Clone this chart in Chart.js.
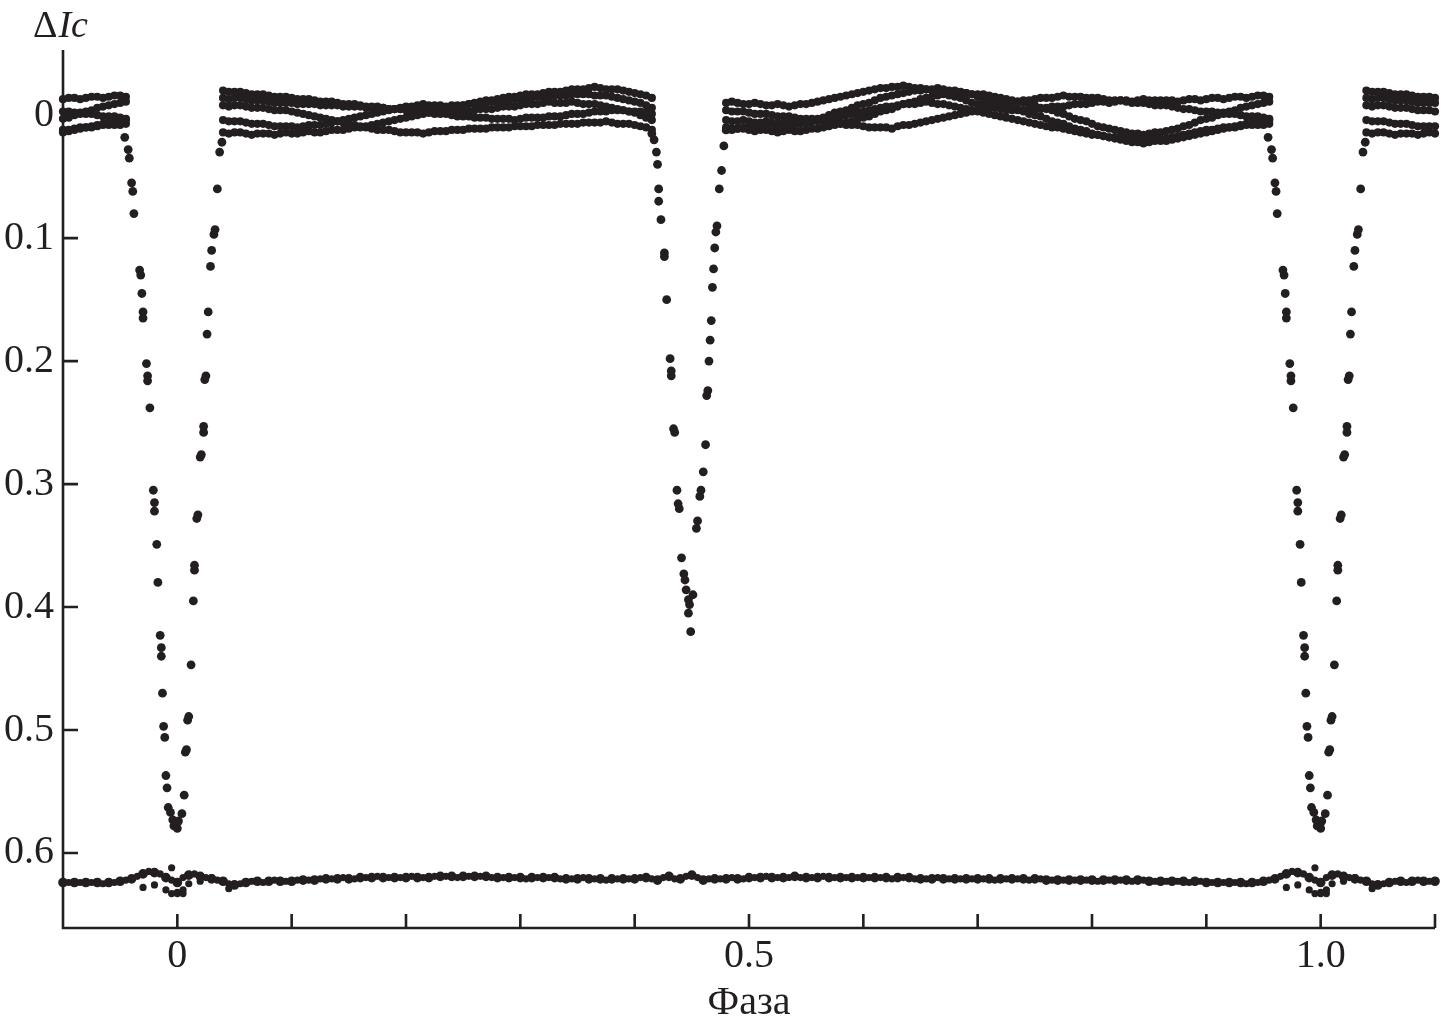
<!DOCTYPE html>
<html>
<head>
<meta charset="utf-8">
<script src="https://cdn.jsdelivr.net/npm/chart.js@4.4.0/dist/chart.umd.min.js"></script>
<style>
  html, body { margin: 0; padding: 0; background: #fff; }
</style>
</head>
<body>
<canvas id="lightCurve" width="1444" height="1029"></canvas>
<script>
// phase grids of the observations (two interleaved samplings)
const gridPhase = [
  0.00, 0.01, 0.02, 0.03, 0.04, 0.05, 0.06, 0.07, 0.08, 0.09,
  0.10, 0.11, 0.12, 0.13, 0.14, 0.15, 0.16, 0.17, 0.18, 0.19,
  0.20, 0.21, 0.22, 0.23, 0.24, 0.25, 0.26, 0.27, 0.28, 0.29,
  0.30, 0.31, 0.32, 0.33, 0.34, 0.35, 0.36, 0.37, 0.38, 0.39,
  0.40, 0.41, 0.42, 0.43, 0.44, 0.45, 0.46, 0.47, 0.48, 0.49,
  0.50, 0.51, 0.52, 0.53, 0.54, 0.55, 0.56, 0.57, 0.58, 0.59,
  0.60, 0.61, 0.62, 0.63, 0.64, 0.65, 0.66, 0.67, 0.68, 0.69,
  0.70, 0.71, 0.72, 0.73, 0.74, 0.75, 0.76, 0.77, 0.78, 0.79,
  0.80, 0.81, 0.82, 0.83, 0.84, 0.85, 0.86, 0.87, 0.88, 0.89,
  0.90, 0.91, 0.92, 0.93, 0.94, 0.95, 0.96, 0.97, 0.98, 0.99
];
const gridHalf = [
  0.005, 0.015, 0.025, 0.035, 0.045, 0.055, 0.065, 0.075, 0.085, 0.095,
  0.105, 0.115, 0.125, 0.135, 0.145, 0.155, 0.165, 0.175, 0.185, 0.195,
  0.205, 0.215, 0.225, 0.235, 0.245, 0.255, 0.265, 0.275, 0.285, 0.295,
  0.305, 0.315, 0.325, 0.335, 0.345, 0.355, 0.365, 0.375, 0.385, 0.395,
  0.405, 0.415, 0.425, 0.435, 0.445, 0.455, 0.465, 0.475, 0.485, 0.495,
  0.505, 0.515, 0.525, 0.535, 0.545, 0.555, 0.565, 0.575, 0.585, 0.595,
  0.605, 0.615, 0.625, 0.635, 0.645, 0.655, 0.665, 0.675, 0.685, 0.695,
  0.705, 0.715, 0.725, 0.735, 0.745, 0.755, 0.765, 0.775, 0.785, 0.795,
  0.805, 0.815, 0.825, 0.835, 0.845, 0.855, 0.865, 0.875, 0.885, 0.895,
  0.905, 0.915, 0.925, 0.935, 0.945, 0.955, 0.965, 0.975, 0.985, 0.995
];

// first maximum, phase 0.04 .. 0.415 (one array per night)
const max1Phase = gridPhase.slice(4, 42);
const max1PhaseH = gridHalf.slice(4, 42);
const max1A = [-0.020,-0.019,-0.018,-0.017,-0.016,-0.015,-0.014,-0.013,-0.012,-0.011,
  -0.010,-0.009,-0.008,-0.007,-0.006,-0.005,-0.004,-0.003,-0.002,-0.001,
  0.000,0.001,0.002,0.002,0.003,0.003,0.003,0.002,0.002,0.001,
  0.000,-0.001,-0.002,-0.003,-0.004,-0.004,-0.003,-0.002];
const max1AH = [-0.019,-0.019,-0.017,-0.017,-0.015,-0.015,-0.013,-0.013,-0.011,-0.011,
  -0.009,-0.009,-0.007,-0.007,-0.005,-0.005,-0.003,-0.003,-0.001,-0.001,
  0.001,0.001,0.002,0.003,0.003,0.004,0.002,0.002,0.001,0.001,
  -0.001,-0.001,-0.003,-0.003,-0.004,-0.003,-0.003,-0.001];
const max1B = [0.014,0.014,0.015,0.015,0.015,0.015,0.015,0.014,0.014,0.013,
  0.012,0.011,0.010,0.008,0.006,0.004,0.002,0.000,-0.002,-0.004,
  -0.006,-0.008,-0.010,-0.012,-0.013,-0.015,-0.016,-0.017,-0.018,-0.019,
  -0.020,-0.021,-0.022,-0.022,-0.021,-0.020,-0.018,-0.016];
const max1BH = [0.015,0.014,0.016,0.015,0.016,0.014,0.015,0.013,0.014,0.012,
  0.012,0.010,0.009,0.007,0.005,0.003,0.001,-0.001,-0.003,-0.005,
  -0.007,-0.009,-0.011,-0.012,-0.014,-0.015,-0.017,-0.017,-0.019,-0.019,
  -0.021,-0.021,-0.023,-0.021,-0.021,-0.019,-0.017,-0.014];
const max1C = [-0.008,-0.008,-0.007,-0.006,-0.005,-0.004,-0.003,-0.001,0.001,0.003,
  0.005,0.007,0.009,0.011,0.012,0.013,0.014,0.014,0.014,0.013,
  0.012,0.012,0.011,0.011,0.010,0.010,0.009,0.009,0.008,0.008,
  0.007,0.007,0.006,0.006,0.006,0.007,0.008,0.010];
const max1CH = [-0.007,-0.008,-0.006,-0.006,-0.004,-0.004,-0.002,0.000,0.002,0.004,
  0.006,0.008,0.010,0.012,0.012,0.014,0.014,0.015,0.013,0.013,
  0.012,0.011,0.011,0.010,0.010,0.009,0.009,0.008,0.008,0.007,
  0.007,0.006,0.006,0.005,0.007,0.007,0.009,0.012];
const max1D = [0.004,0.005,0.006,0.007,0.008,0.009,0.009,0.009,0.008,0.007,
  0.005,0.003,0.001,-0.001,-0.003,-0.005,-0.007,-0.008,-0.008,-0.008,
  -0.008,-0.008,-0.009,-0.010,-0.011,-0.012,-0.013,-0.014,-0.015,-0.016,
  -0.016,-0.017,-0.017,-0.016,-0.015,-0.013,-0.011,-0.008];
const max1DH = [0.005,0.005,0.007,0.007,0.009,0.009,0.010,0.008,0.008,0.006,
  0.004,0.002,0.000,-0.002,-0.004,-0.006,-0.007,-0.009,-0.008,-0.007,
  -0.008,-0.009,-0.009,-0.011,-0.011,-0.013,-0.013,-0.015,-0.015,-0.016,
  -0.017,-0.017,-0.016,-0.016,-0.014,-0.012,-0.010,-0.006];
const max1E = [-0.014,-0.014,-0.013,-0.012,-0.011,-0.010,-0.010,-0.009,-0.009,-0.008,
  -0.008,-0.007,-0.007,-0.006,-0.006,-0.005,-0.005,-0.004,-0.004,-0.004,
  -0.003,-0.003,-0.004,-0.005,-0.006,-0.007,-0.008,-0.009,-0.010,-0.010,
  -0.010,-0.010,-0.009,-0.008,-0.006,-0.004,-0.002,0.002];
const max1EH = [-0.013,-0.014,-0.012,-0.012,-0.010,-0.010,-0.009,-0.009,-0.008,-0.008,
  -0.007,-0.007,-0.006,-0.006,-0.005,-0.005,-0.004,-0.004,-0.003,-0.004,
  -0.002,-0.003,-0.005,-0.005,-0.007,-0.007,-0.009,-0.009,-0.011,-0.010,
  -0.011,-0.009,-0.009,-0.007,-0.005,-0.003,0.000,0.004];

// second maximum, phase 0.48 .. 0.955
const max2Phase = gridPhase.slice(48, 96);
const max2PhaseH = gridHalf.slice(48, 96);
const max2A = [0.012,0.011,0.010,0.010,0.010,0.009,0.008,0.006,0.003,0.000,
  -0.003,-0.006,-0.009,-0.012,-0.015,-0.017,-0.019,-0.020,-0.021,-0.021,
  -0.020,-0.018,-0.015,-0.012,-0.009,-0.006,-0.003,0.000,0.003,0.006,
  0.009,0.012,0.015,0.017,0.019,0.021,0.022,0.022,0.021,0.020,
  0.018,0.016,0.014,0.012,0.010,0.008,0.006,0.005];
const max2AH = [0.012,0.010,0.011,0.009,0.010,0.008,0.007,0.005,0.002,-0.002,
  -0.004,-0.008,-0.010,-0.014,-0.016,-0.018,-0.020,-0.021,-0.022,-0.020,
  -0.019,-0.017,-0.013,-0.011,-0.007,-0.005,-0.001,0.001,0.005,0.007,
  0.011,0.013,0.016,0.018,0.020,0.022,0.023,0.021,0.021,0.019,
  0.017,0.015,0.013,0.011,0.009,0.007,0.006,0.004];
const max2B = [-0.010,-0.010,-0.009,-0.009,-0.008,-0.008,-0.008,-0.009,-0.011,-0.013,
  -0.015,-0.017,-0.019,-0.021,-0.022,-0.023,-0.023,-0.022,-0.020,-0.018,
  -0.015,-0.012,-0.009,-0.007,-0.005,-0.004,-0.004,-0.005,-0.006,-0.007,
  -0.008,-0.009,-0.010,-0.011,-0.011,-0.012,-0.012,-0.012,-0.012,-0.012,
  -0.012,-0.013,-0.013,-0.014,-0.014,-0.015,-0.015,-0.016];
const max2BH = [-0.011,-0.009,-0.010,-0.008,-0.009,-0.007,-0.009,-0.010,-0.012,-0.014,
  -0.016,-0.018,-0.020,-0.022,-0.023,-0.024,-0.022,-0.021,-0.019,-0.016,
  -0.014,-0.010,-0.008,-0.006,-0.004,-0.004,-0.005,-0.005,-0.007,-0.007,
  -0.009,-0.009,-0.011,-0.010,-0.012,-0.011,-0.013,-0.012,-0.012,-0.011,
  -0.013,-0.012,-0.014,-0.013,-0.015,-0.014,-0.016,-0.015];
const max2C = [0.004,0.005,0.005,0.006,0.006,0.006,0.006,0.006,0.005,0.003,
  0.001,-0.001,-0.003,-0.005,-0.007,-0.008,-0.009,-0.010,-0.010,-0.009,
  -0.007,-0.005,-0.003,-0.001,0.001,0.003,0.005,0.007,0.009,0.010,
  0.012,0.014,0.016,0.017,0.018,0.019,0.020,0.020,0.019,0.018,
  0.016,0.014,0.012,0.011,0.010,0.009,0.008,0.008];
const max2CH = [0.005,0.004,0.006,0.005,0.007,0.006,0.007,0.005,0.004,0.002,
  0.000,-0.002,-0.004,-0.006,-0.007,-0.009,-0.009,-0.011,-0.009,-0.008,
  -0.006,-0.004,-0.002,0.000,0.002,0.004,0.006,0.008,0.010,0.011,
  0.013,0.015,0.016,0.018,0.018,0.020,0.021,0.019,0.019,0.017,
  0.015,0.013,0.012,0.010,0.010,0.008,0.008,0.007];
const max2D = [-0.004,-0.003,-0.002,-0.001,0.000,0.001,0.002,0.003,0.004,0.006,
  0.007,0.008,0.009,0.010,0.010,0.009,0.008,0.006,0.004,0.002,
  0.000,-0.002,-0.004,-0.006,-0.008,-0.010,-0.012,-0.013,-0.014,-0.015,
  -0.015,-0.015,-0.014,-0.013,-0.012,-0.011,-0.010,-0.009,-0.008,-0.007,
  -0.005,-0.004,-0.003,-0.002,-0.001,0.000,0.001,0.002];
const max2DH = [-0.003,-0.003,-0.001,-0.001,0.001,0.001,0.003,0.003,0.005,0.006,
  0.008,0.008,0.010,0.010,0.011,0.008,0.007,0.005,0.003,0.001,
  -0.001,-0.003,-0.005,-0.007,-0.009,-0.011,-0.012,-0.014,-0.014,-0.016,
  -0.015,-0.014,-0.014,-0.012,-0.012,-0.010,-0.010,-0.008,-0.008,-0.006,
  -0.005,-0.003,-0.003,-0.001,-0.001,0.001,0.001,0.003];
const max2E = [0.010,0.011,0.012,0.012,0.013,0.013,0.013,0.012,0.011,0.009,
  0.007,0.005,0.002,-0.001,-0.004,-0.007,-0.010,-0.013,-0.015,-0.017,
  -0.018,-0.018,-0.017,-0.016,-0.014,-0.012,-0.010,-0.008,-0.005,-0.002,
  0.001,0.004,0.007,0.010,0.012,0.014,0.015,0.015,0.014,0.012,
  0.009,0.006,0.003,0.000,-0.003,-0.006,-0.008,-0.010];
const max2EH = [0.011,0.011,0.013,0.012,0.014,0.012,0.013,0.011,0.010,0.008,
  0.006,0.003,0.001,-0.003,-0.005,-0.009,-0.011,-0.014,-0.016,-0.018,
  -0.018,-0.017,-0.017,-0.015,-0.013,-0.011,-0.009,-0.006,-0.004,-0.001,
  0.003,0.005,0.009,0.011,0.013,0.015,0.016,0.014,0.013,0.011,
  0.008,0.004,0.002,-0.002,-0.004,-0.007,-0.009,-0.011];

// primary eclipse
const primPhase = [-0.046,-0.043,-0.042,-0.040,-0.039,-0.038,-0.033,-0.032,-0.031,-0.030,
  -0.030,-0.027,-0.026,-0.026,-0.024,-0.021,-0.020,-0.020,-0.018,-0.017,
  -0.015,-0.014,-0.014,-0.013,-0.012,-0.011,-0.010,-0.009,-0.008,-0.006,
  -0.004,-0.003,-0.002,0.000,0.001,
  0.004,0.006,0.007,0.008,0.009,0.010,0.012,0.014,0.015,0.015,
  0.017,0.018,0.020,0.021,0.023,0.023,0.024,0.025,0.026,0.027,
  0.029,0.030,0.032,0.033,0.035,0.037,0.039];
const primDepth = [0.018,0.028,0.035,0.055,0.062,0.080,0.126,0.130,0.145,0.160,
  0.165,0.202,0.212,0.216,0.238,0.305,0.315,0.322,0.349,0.380,
  0.423,0.433,0.440,0.470,0.497,0.506,0.537,0.547,0.563,0.567,
  0.573,0.578,0.576,0.580,0.574,
  0.568,0.553,0.518,0.516,0.492,0.489,0.447,0.395,0.370,0.366,
  0.328,0.325,0.278,0.276,0.258,0.253,0.215,0.212,0.178,0.160,
  0.123,0.110,0.097,0.093,0.060,0.030,0.022];

// secondary eclipse
const secPhase = [0.415,0.417,0.419,0.420,0.421,0.421,0.423,0.426,0.426,0.428,
  0.431,0.432,0.432,0.434,0.435,0.437,0.438,0.439,0.441,0.443,
  0.444,0.445,0.447,0.448,0.447,0.449,
  0.451,0.454,0.455,0.457,0.458,0.460,0.462,0.463,0.464,0.465,
  0.466,0.467,0.468,0.469,0.470,0.471,0.472,0.474,0.476,0.478,0.480];
const secDepth = [0.015,0.020,0.030,0.040,0.060,0.070,0.085,0.112,0.115,0.150,
  0.198,0.208,0.212,0.255,0.258,0.305,0.316,0.320,0.360,0.373,
  0.378,0.386,0.394,0.398,0.405,0.420,
  0.390,0.336,0.330,0.310,0.305,0.290,0.268,0.228,0.224,0.200,
  0.183,0.167,0.140,0.125,0.108,0.095,0.090,0.060,0.045,0.025,0.012];

// comparison star
const compDiff = [0.624,0.618,0.619,0.621,0.623,0.626,0.624,0.623,0.623,0.623,
  0.623,0.622,0.622,0.621,0.621,0.621,0.620,0.620,0.620,0.620,
  0.620,0.620,0.620,0.619,0.619,0.619,0.619,0.619,0.620,0.620,
  0.620,0.620,0.620,0.620,0.621,0.621,0.621,0.621,0.621,0.621,
  0.621,0.620,0.622,0.619,0.621,0.618,0.622,0.621,0.621,0.621,
  0.620,0.620,0.620,0.620,0.619,0.620,0.620,0.620,0.620,0.620,
  0.620,0.620,0.620,0.620,0.620,0.621,0.621,0.621,0.621,0.621,
  0.621,0.621,0.621,0.621,0.621,0.621,0.622,0.622,0.622,0.622,
  0.622,0.622,0.622,0.622,0.622,0.623,0.623,0.623,0.623,0.623,
  0.624,0.624,0.624,0.624,0.624,0.623,0.621,0.617,0.616,0.620];
const compDiffH = [0.620,0.617,0.620,0.622,0.625,0.625,0.623,0.624,0.622,0.623,
  0.622,0.622,0.621,0.621,0.620,0.621,0.620,0.619,0.620,0.620,
  0.619,0.620,0.619,0.619,0.620,0.619,0.619,0.620,0.620,0.620,
  0.621,0.620,0.620,0.621,0.621,0.620,0.621,0.622,0.621,0.621,
  0.620,0.621,0.620,0.621,0.619,0.620,0.621,0.621,0.620,0.621,
  0.620,0.619,0.620,0.620,0.620,0.620,0.619,0.620,0.620,0.620,
  0.620,0.620,0.621,0.620,0.621,0.621,0.620,0.621,0.621,0.621,
  0.621,0.622,0.621,0.621,0.622,0.621,0.622,0.622,0.622,0.622,
  0.623,0.622,0.622,0.623,0.622,0.623,0.623,0.623,0.624,0.623,
  0.624,0.624,0.624,0.625,0.624,0.622,0.619,0.615,0.617,0.622];
const compExtraPhase = [-0.030,-0.020,-0.010,-0.005,0.000,0.005,0.010,0.020,0.030,0.045,-0.005,0.000,0.005];
const compExtraDiff = [0.628,0.626,0.630,0.612,0.632,0.630,0.625,0.623,0.620,0.629,0.633,0.633,0.633];

const yTickValues = [0, 0.1, 0.2, 0.3, 0.4, 0.5, 0.6];
const xLabelValues = [0, 0.5, 1.0];
const xLabelText = ['0', '0.5', '1.0'];
const xMinorTicks = [0, 0.1, 0.2, 0.3, 0.4, 0.5, 0.6, 0.7, 0.8, 0.9, 1.0, 1.1];

const X_MIN = -0.1, X_MAX = 1.1;
const INK = '#231f20';
const FONT = "'Liberation Serif', 'DejaVu Serif', serif";

// phase diagram shows each point again one period before and after
function folded(phases, values) {
  const pts = [];
  phases.forEach((p, i) => {
    [-1, 0, 1].forEach(s => {
      const x = p + s;
      if (x >= X_MIN - 1e-9 && x <= X_MAX + 1e-9) pts.push({ x: x, y: values[i] });
    });
  });
  return pts.sort((a, b) => a.x - b.x);
}

function dots(phases, values, r) {
  return {
    data: folded(phases, values),
    backgroundColor: INK,
    borderWidth: 0,
    pointRadius: r || 4.1,
    pointStyle: 'circle',
    showLine: false,
    clip: 6
  };
}

const frame = {
  id: 'frame',
  afterDraw(chart) {
    const ctx = chart.ctx;
    const a = chart.chartArea;
    const xs = chart.scales.x, ys = chart.scales.y;
    ctx.save();
    ctx.strokeStyle = INK;
    ctx.lineWidth = 2.6;
    ctx.beginPath();
    ctx.moveTo(a.left, a.top);
    ctx.lineTo(a.left, a.bottom);
    ctx.lineTo(a.right, a.bottom);
    yTickValues.forEach(v => {
      const y = ys.getPixelForValue(v);
      ctx.moveTo(a.left, y);
      ctx.lineTo(a.left + 15, y);
    });
    xMinorTicks.forEach(v => {
      const x = xs.getPixelForValue(v);
      ctx.moveTo(x, a.bottom);
      ctx.lineTo(x, a.bottom - 14);
    });
    ctx.stroke();

    // axis name at the top left
    ctx.fillStyle = INK;
    ctx.textBaseline = 'alphabetic';
    ctx.font = '38px ' + FONT;
    ctx.fillText('Δ', 33, 37);
    const w = ctx.measureText('Δ').width;
    ctx.font = 'italic 38px ' + FONT;
    ctx.fillText('Ic', 33 + w + 1, 37);
    ctx.restore();
  }
};

const labelFont = { family: FONT, size: 40 };

const datasets = [
  dots(max1Phase, max1A), dots(max1PhaseH, max1AH),
  dots(max1Phase, max1B), dots(max1PhaseH, max1BH),
  dots(max1Phase, max1C), dots(max1PhaseH, max1CH),
  dots(max1Phase, max1D), dots(max1PhaseH, max1DH),
  dots(max1Phase, max1E), dots(max1PhaseH, max1EH),
  dots(max2Phase, max2A), dots(max2PhaseH, max2AH),
  dots(max2Phase, max2B), dots(max2PhaseH, max2BH),
  dots(max2Phase, max2C), dots(max2PhaseH, max2CH),
  dots(max2Phase, max2D), dots(max2PhaseH, max2DH),
  dots(max2Phase, max2E), dots(max2PhaseH, max2EH),
  dots(primPhase, primDepth, 4.4),
  dots(secPhase, secDepth, 4.4),
  dots(compExtraPhase, compExtraDiff, 3.6),
  dots(gridHalf, compDiffH, 3.6),
  Object.assign(dots(gridPhase, compDiff, 3.6), {
    showLine: true, borderColor: INK, borderWidth: 2.5
  })
];

new Chart(document.getElementById('lightCurve'), {
  type: 'scatter',
  data: { datasets: datasets },
  options: {
    responsive: false,
    animation: false,
    layout: { padding: { top: 50, right: 9, left: 0, bottom: 0 } },
    plugins: { legend: { display: false }, tooltip: { enabled: false } },
    scales: {
      x: {
        type: 'linear', min: X_MIN, max: X_MAX,
        grid: { display: false, drawTicks: false }, border: { display: false },
        afterFit: s => { s.height = 101; },
        afterBuildTicks: s => { s.ticks = xLabelValues.map(v => ({ value: v })); },
        ticks: {
          font: labelFont, color: INK, padding: 4, maxRotation: 0, autoSkip: false,
          callback: (v, i) => xLabelText[i]
        },
        title: { display: true, text: 'Фаза', font: labelFont, color: INK, padding: { top: 0, bottom: 2 } }
      },
      y: {
        type: 'linear', reverse: true, min: -0.053, max: 0.661,
        grid: { display: false, drawTicks: false }, border: { display: false },
        afterFit: s => { s.width = 63; },
        afterBuildTicks: s => { s.ticks = yTickValues.map(v => ({ value: v })); },
        ticks: {
          font: labelFont, color: INK, padding: 9, autoSkip: false,
          callback: v => (v === 0 ? '0' : v.toFixed(1))
        }
      }
    }
  },
  plugins: [frame]
});
</script>
</body>
</html>
